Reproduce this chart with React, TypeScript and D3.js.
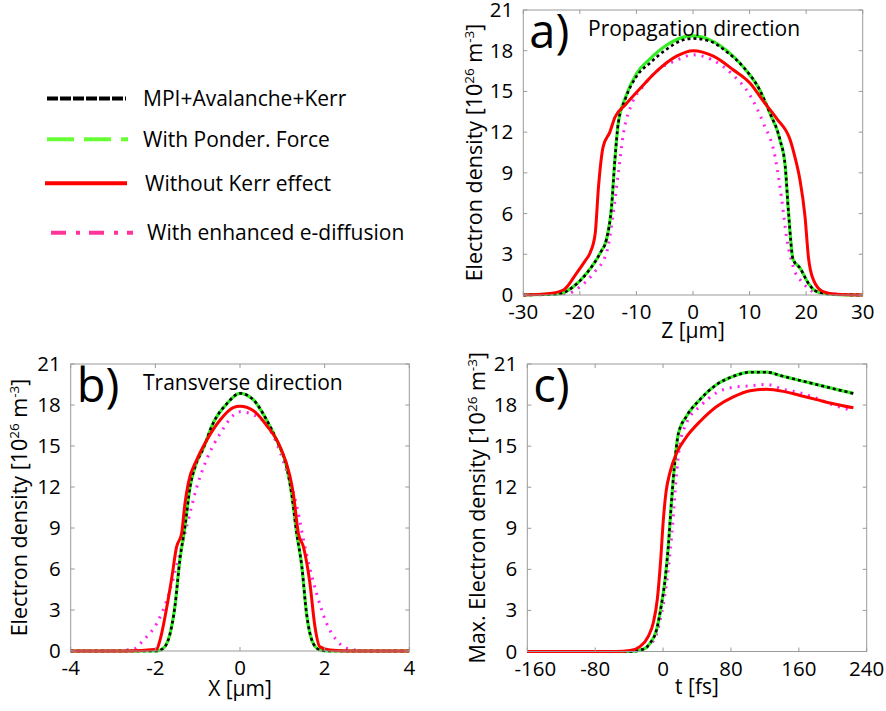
import React from "react";
import * as d3 from "d3";

// ---------- Data ----------
const legendLabels = ["MPI+Avalanche+Kerr", "With Ponder. Force", "Without Kerr effect", "With enhanced e-diffusion"];
const yTicks = [0, 3, 6, 9, 12, 15, 18, 21];
const zTicks = [-30, -20, -10, 0, 10, 20, 30];
const xTicks = [-4, -2, 0, 2, 4];
const tTicks = [-160, -80, 0, 80, 160, 240];

// Panel a: propagation direction, Z [µm]
const aMpi: [number, number][] = [
  [-30, 0], [-23.5, 0.1], [-21.2, 0.6], [-18.8, 1.6], [-16.4, 3.1], [-15.3, 4.1], [-14.4, 6.5], [-13.8, 10.0],
  [-13.2, 12.7], [-12.0, 14.4], [-10.0, 16.1], [-7.6, 17.1], [-4.7, 18.1], [-1.7, 18.8], [0, 18.9], [3.0, 18.7],
  [6.0, 17.9], [8.9, 16.8], [11.8, 15.1], [13.6, 13.4], [15.4, 11.4], [16.3, 9.5], [16.9, 6.0], [17.7, 2.6],
  [18.9, 2.0], [20.4, 0.86], [21.9, 0.25], [24.8, 0.05], [30, 0],
];
const aPonder: [number, number][] = [
  [-30, 0], [-23.5, 0.1], [-21.2, 0.6], [-18.8, 1.6], [-16.4, 3.1], [-15.3, 4.1], [-14.4, 6.5], [-13.8, 10.0],
  [-13.2, 12.7], [-12.0, 14.5], [-10.0, 16.3], [-7.6, 17.4], [-4.7, 18.4], [-1.7, 19.0], [0, 19.1], [3.0, 18.8],
  [6.0, 18.0], [8.9, 16.8], [11.8, 15.1], [13.6, 13.4], [15.4, 11.4], [16.3, 9.5], [16.9, 6.0], [17.7, 2.6],
  [18.9, 2.0], [20.4, 0.86], [21.9, 0.25], [24.8, 0.05], [30, 0],
];
const aNoKerr: [number, number][] = [
  [-30, 0], [-25.3, 0.12], [-22.9, 0.37], [-20.6, 1.6], [-19.1, 2.5], [-18.2, 3.1], [-17.3, 4.5], [-16.7, 8.0],
  [-15.9, 10.9], [-14.7, 12.0], [-13.8, 13.1], [-12.0, 14.0], [-9.4, 15.2], [-6.4, 16.5], [-2.9, 17.6], [0, 18.0],
  [3.6, 17.6], [7.1, 16.6], [10.1, 15.6], [12.4, 14.3], [14.8, 13.0], [17.2, 11.4], [18.0, 10.2], [18.9, 8.5],
  [19.8, 5.8], [20.4, 2.8], [21.3, 1.1], [23.0, 0.25], [25.4, 0.05], [30, 0],
];
const aDiffusion: [number, number][] = [
  [-30, 0], [-22.3, 0.1], [-20.0, 0.6], [-17.6, 1.6], [-15.3, 3.1], [-14.1, 6.0], [-13.2, 9.0], [-12.3, 11.9],
  [-10.8, 14.1], [-8.8, 15.4], [-6.4, 16.5], [-2.9, 17.3], [0, 17.7], [3.5, 17.3], [7.1, 16.2], [10.1, 14.7],
  [12.4, 12.7], [14.5, 10.2], [15.7, 7.0], [16.6, 4.1], [17.7, 2.1], [19.5, 0.86], [21.9, 0.17], [30, 0],
];

// Panel b: transverse direction, X [µm]
const bMpi: [number, number][] = [
  [-4, 0], [-1.97, 0], [-1.81, 0.2], [-1.65, 1.3], [-1.54, 3.2], [-1.42, 6.7], [-1.30, 9.1], [-1.18, 12.0],
  [-1.06, 13.5], [-0.87, 14.8], [-0.63, 16.7], [-0.31, 18.1], [0, 18.85], [0.31, 18.4], [0.63, 16.9], [0.87, 15.4],
  [1.10, 13.5], [1.22, 11.5], [1.34, 8.6], [1.46, 6.2], [1.57, 2.8], [1.73, 0.56], [1.89, 0.07], [2.05, 0], [4, 0],
];
const bNoKerr: [number, number][] = [
  [-4, 0], [-2.68, 0], [-1.97, 0.12], [-1.89, 0.8], [-1.73, 3.2], [-1.61, 5.4], [-1.50, 7.6], [-1.38, 8.6],
  [-1.30, 10.8], [-1.22, 12.3], [-1.02, 14.0], [-0.79, 15.4], [-0.47, 16.9], [-0.16, 17.8], [0, 17.9], [0.31, 17.6],
  [0.63, 16.5], [0.94, 15.0], [1.18, 12.8], [1.26, 11.5], [1.38, 8.6], [1.50, 7.6], [1.65, 5.0], [1.77, 1.8],
  [1.89, 0.3], [2.13, 0.07], [2.6, 0], [4, 0],
];
const bDiffusion: [number, number][] = [
  [-4, 0], [-3.3, 0], [-2.52, 0.12], [-2.28, 0.8], [-1.97, 2.0], [-1.73, 3.7], [-1.5, 6.2], [-1.26, 9.1],
  [-1.02, 12.0], [-0.79, 14.0], [-0.47, 15.9], [0, 17.5], [0.49, 17.0], [0.79, 15.7], [1.10, 13.2], [1.34, 10.6],
  [1.57, 7.1], [1.81, 4.2], [2.05, 2.0], [2.28, 0.8], [2.52, 0.2], [3.0, 0], [4, 0],
];

// Panel c: maximum density vs time t [fs]
const cMpi: [number, number][] = [
  [-160, 0], [-39, 0], [-23.3, 0.17], [-15.4, 0.6], [-7.6, 1.6], [-1.7, 3.5], [2.3, 5.2], [6.2, 7.7], [10.1, 11.1],
  [14.1, 14.0], [18, 15.9], [27.8, 17.2], [43.5, 18.4], [63.2, 19.5], [82.8, 20.1], [102.5, 20.4], [122, 20.4],
  [141.7, 20.1], [161.4, 19.8], [181, 19.5], [200.7, 19.2], [224.3, 18.85],
];
const cNoKerr: [number, number][] = [
  [-160, 0], [-54.7, 0], [-39, 0.07], [-27.2, 0.36], [-17.4, 1.1], [-11.5, 2.1], [-6.8, 3.8], [-2.8, 6.7],
  [0.3, 9.6], [3.4, 11.6], [8.2, 13.1], [16, 14.5], [27.8, 15.7], [43.5, 16.8], [63.2, 17.9], [82.8, 18.6],
  [102.5, 19.05], [122, 19.15], [141.7, 19.0], [161.4, 18.7], [181, 18.4], [200.7, 18.1], [224.3, 17.8],
];
const cDiffusion: [number, number][] = [
  [-160, 0], [-39, 0], [-23.3, 0.17], [-15.4, 0.5], [-7.6, 1.3], [-1.7, 2.8], [4.2, 5.0], [8.2, 7.2], [12.1, 9.9],
  [15.2, 12.5], [20, 15.2], [27.8, 16.7], [43.5, 17.9], [63.2, 18.9], [82.8, 19.3], [102.5, 19.4], [122, 19.5],
  [141.7, 19.15], [161.4, 18.9], [181, 18.5], [200.7, 18.0], [224.3, 17.6],
];

// ---------- Styles ----------
const FONT = "'Open Sans', 'DejaVu Sans', sans-serif";
const COL_BLACK = "#000000";
const COL_GREEN = "#33ee22";
const COL_RED = "#ff0000";
const COL_PINK = "#ff22ee";
const FRAME = "#9a9a9a";

type Box = { left: number; right: number; top: number; bottom: number };

function YTitle({ x, y, prefix }: { x: number; y: number; prefix: string }) {
  return (
    <text transform={`translate(${x},${y}) rotate(-90)`} textAnchor="middle" fontFamily={FONT} fontSize={21.5} fill="#000">
      {prefix}Electron density [10
      <tspan fontSize={13.5} dy={-8}>26</tspan>
      <tspan dy={8}> m</tspan>
      <tspan fontSize={13.5} dy={-8}>-3</tspan>
      <tspan dy={8}>]</tspan>
    </text>
  );
}

function Panel({
  box, xDomain, xTickVals, xTitle, series, label, subtitle, yTitlePrefix, yTitleX, xTitleY, firstTickShift,
}: {
  box: Box; xDomain: [number, number]; xTickVals: number[]; xTitle: string;
  series: { data: [number, number][]; color: string; width: number; dash?: string }[];
  label: string; subtitle?: { text: string; x: number; y: number }; yTitlePrefix: string; yTitleX: number; xTitleY: number;
  firstTickShift?: number;
}) {
  const x = d3.scaleLinear().domain(xDomain).range([box.left, box.right]);
  const y = d3.scaleLinear().domain([0, 21]).range([box.bottom, box.top]);
  const line = d3.line<[number, number]>().x((d) => x(d[0])).y((d) => y(d[1])).curve(d3.curveMonotoneX);
  const tl = 4;
  return (
    <g>
      {series.map((s, i) => (
        <path key={i} d={line(s.data) || ""} fill="none" stroke={s.color} strokeWidth={s.width}
          strokeDasharray={s.dash} strokeLinejoin="round" />
      ))}
      <rect x={box.left} y={box.top} width={box.right - box.left} height={box.bottom - box.top} fill="none" stroke={FRAME} strokeWidth={1} />
      {yTicks.map((t) => (
        <g key={"y" + t}>
          <line x1={box.left} x2={box.left + tl} y1={y(t)} y2={y(t)} stroke={FRAME} />
          <line x1={box.right} x2={box.right - tl} y1={y(t)} y2={y(t)} stroke={FRAME} />
          <text x={box.left - 10} y={y(t) + 7} textAnchor="end" fontFamily={FONT} fontSize={20.5} fill="#000">{t}</text>
        </g>
      ))}
      {xTickVals.map((t, i) => (
        <g key={"x" + t}>
          <line x1={x(t)} x2={x(t)} y1={box.bottom} y2={box.bottom - tl} stroke={FRAME} />
          <line x1={x(t)} x2={x(t)} y1={box.top} y2={box.top + tl} stroke={FRAME} />
          <text x={x(t) + (i === 0 && firstTickShift ? firstTickShift : 0)} y={box.bottom + 24} textAnchor="middle" fontFamily={FONT} fontSize={20.5} fill="#000">{t}</text>
        </g>
      ))}
      <text x={(box.left + box.right) / 2} y={xTitleY} textAnchor="middle" fontFamily={FONT} fontSize={21} fill="#000">{xTitle}</text>
      <YTitle x={yTitleX} y={(box.top + box.bottom) / 2} prefix={yTitlePrefix} />
      <text x={box.left + 6} y={box.top + 38} fontFamily={FONT} fontSize={47} fill="#000">{label}</text>
      {subtitle && (
        <text x={subtitle.x} y={subtitle.y} fontFamily={FONT} fontSize={21} fill="#000">{subtitle.text}</text>
      )}
    </g>
  );
}

export default function App() {
  const boxA: Box = { left: 523.3, right: 862.7, top: 10, bottom: 295 };
  const boxB: Box = { left: 70.7, right: 409.3, top: 364, bottom: 651 };
  const boxC: Box = { left: 527.3, right: 866.7, top: 364, bottom: 651.5 };

  const mk = (mpi: [number, number][], ponder: [number, number][], nokerr: [number, number][], diff: [number, number][]) => [
    { data: diff, color: COL_PINK, width: 3, dash: "2,6" },
    { data: ponder, color: COL_GREEN, width: 3.2 },
    { data: mpi, color: COL_BLACK, width: 2.6, dash: "3,3" },
    { data: nokerr, color: COL_RED, width: 3 },
  ];

  const legendY = [98.5, 139.3, 183.3, 232.7];
  const legendTextX = [143, 143, 145, 147];
  const legendStyles = [
    { color: COL_BLACK, dash: "11,2", x1: 47, x2: 126 },
    { color: "#66ff33", dash: "27,10", x1: 47, x2: 128 },
    { color: COL_RED, dash: undefined, x1: 45, x2: 127 },
    { color: "#ff3399", dash: "15,10,4,9", x1: 51, x2: 133 },
  ];

  return (
    <svg width={886} height={711} style={{ position: "absolute", left: 0, top: 0, background: "#fff" }}>
      <rect width={886} height={711} fill="#fff" />
      {legendLabels.map((lab, i) => (
        <g key={lab}>
          <line x1={legendStyles[i].x1} x2={legendStyles[i].x2} y1={legendY[i]} y2={legendY[i]} stroke={legendStyles[i].color}
            strokeWidth={4} strokeDasharray={legendStyles[i].dash} />
          <text x={legendTextX[i]} y={legendY[i] + 7.5} fontFamily={FONT} fontSize={21} fill="#000">{lab}</text>
        </g>
      ))}
      <Panel box={boxA} xDomain={[-30, 30]} xTickVals={zTicks} xTitle="Z [µm]" series={mk(aMpi, aPonder, aNoKerr, aDiffusion)}
        label="a)" subtitle={{ text: "Propagation direction", x: 588, y: 36 }} yTitlePrefix="" yTitleX={482} xTitleY={338} />
      <Panel box={boxB} xDomain={[-4, 4]} xTickVals={xTicks} xTitle="X [µm]" series={mk(bMpi, bMpi, bNoKerr, bDiffusion)}
        label="b)" subtitle={{ text: "Transverse direction", x: 143, y: 390 }} yTitlePrefix="" yTitleX={27} xTitleY={696} />
      <Panel box={boxC} xDomain={[-160, 240]} xTickVals={tTicks} xTitle="t [fs]" series={mk(cMpi, cMpi, cNoKerr, cDiffusion)}
        label="c)" yTitlePrefix="Max. " yTitleX={485} xTitleY={694} firstTickShift={8} />
    </svg>
  );
}
